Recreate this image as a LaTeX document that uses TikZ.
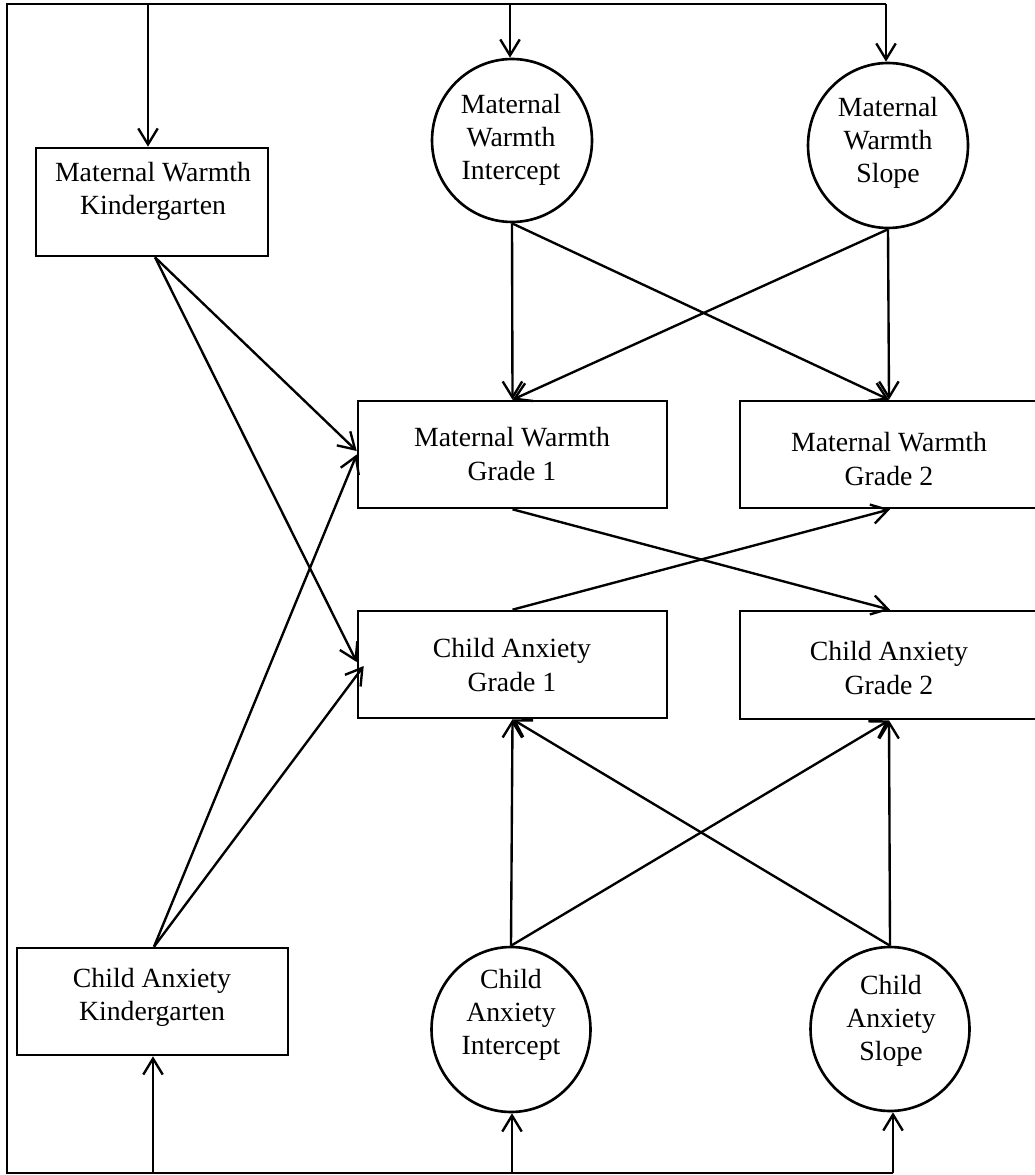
\documentclass[tikz,border=0pt]{standalone}
\usepackage{fontspec}
\setmainfont{Liberation Serif}
\usetikzlibrary{arrows.meta,shapes.geometric}
\begin{document}
\begin{tikzpicture}[x=0.02cm,y=-0.02cm,
  line width=1.35pt,
  box/.style={draw,rectangle,inner sep=0pt,line width=1.5pt},
  lat/.style={draw,ellipse,inner sep=0pt,line width=1.5pt},
  txt/.style={align=center,inner sep=0pt,font=\fontsize{15.8}{18.8}\selectfont},
  arr/.style={-{Straight Barb[length=3.2mm,width=3.9mm]},line width=1.35pt}]
\useasboundingbox (0,0) rectangle (1034,1175);

% observed variables
\node[box,minimum width=4.64cm,minimum height=2.16cm] (mwk) at (152,202) {};
\node[box,minimum width=5.42cm,minimum height=2.14cm] (cak) at (152.5,1001.5) {};
\node[box,minimum width=6.18cm,minimum height=2.14cm] (mwg1) at (512.5,454.5) {};
\node[box,minimum width=5.96cm,minimum height=2.14cm] (mwg2) at (889,454.5) {};
\node[box,minimum width=6.18cm,minimum height=2.14cm] (cag1) at (512.5,664.5) {};
\node[box,minimum width=5.96cm,minimum height=2.16cm] (cag2) at (889,665) {};

% latent variables
\node[lat,minimum width=3.2cm,minimum height=3.26cm] (mwi) at (512,140.5) {};
\node[lat,minimum width=3.2cm,minimum height=3.3cm] (mws) at (888,145.5) {};
\node[lat,minimum width=3.18cm,minimum height=3.3cm] (cai) at (511,1029.5) {};
\node[lat,minimum width=3.18cm,minimum height=3.28cm] (cas) at (890,1029) {};

% texts
\node[txt] (mwkt) at (153,191) {Maternal Warmth\\Kindergarten};
\node[txt] (cakt) at (152,997) {Child Anxiety\\Kindergarten};
\node[txt] (mwg1t) at (512,454) {Maternal Warmth\\Grade 1};
\node[txt] (mwg2t) at (889,459) {Maternal Warmth\\Grade 2};
\node[txt] (cag1t) at (512,665) {Child Anxiety\\Grade 1};
\node[txt] (cag2t) at (889,668) {Child Anxiety\\Grade 2};
\node[txt] (mwit) at (511,140) {Maternal\\Warmth\\Intercept};
\node[txt] (mwst) at (888,143) {Maternal\\Warmth\\Slope};
\node[txt] (cait) at (511,1015) {Child\\Anxiety\\Intercept};
\node[txt] (cast) at (891,1021) {Child\\Anxiety\\Slope};

% frame lines
\coordinate (tl) at (7,4);
\coordinate (tr) at (886,4);
\coordinate (bl) at (7,1173);
\coordinate (br) at (893,1173);
\coordinate (t1) at (148,4);
\coordinate (t2) at (510,4);
\coordinate (b1) at (153,1173);
\coordinate (b2) at (512,1173);
\draw (br) -- (bl) -- (tl) -- (tr);

% arrows from the top line
\draw[arr] (t1) -- (t1 |- mwk.north);
\draw[arr] (t2) -- (t2 |- mwi.north);
\draw[arr] (tr) -- (tr |- mws.north);

% arrows from the bottom line
\draw[arr] (b1) -- (b1 |- cak.south);
\draw[arr] (b2) -- (b2 |- cai.south);
\draw[arr] (br) -- (br |- cas.south);

% kindergarten paths
\draw[arr] ([xshift=0.06cm]mwk.south) -- ([yshift=0.07cm]mwg1.west);
\draw[arr] ([xshift=0.06cm]mwk.south) -- ([yshift=0.05cm]cag1.west);
\draw[arr] ([xshift=0.03cm]cak.north) -- (mwg1.west);
\draw[arr] ([xshift=0.03cm]cak.north) -- ([xshift=0.14cm,yshift=-0.03cm]cag1.west);

% maternal warmth growth factors
\draw[arr] (mwi.south) -- (mwg1.north);
\draw[arr] (mwi.south) -- (mwg2.north);
\draw[arr] (mws.south) -- (mwg1.north);
\draw[arr] (mws.south) -- (mwg2.north);

% cross-lagged paths
\draw[arr] (mwg1.south) -- ([xshift=0.02cm]cag2.north);
\draw[arr] (cag1.north) -- ([xshift=0.02cm]mwg2.south);

% child anxiety growth factors
\draw[arr] (cai.north) -- (cag1.south);
\draw[arr] (cai.north) -- (cag2.south);
\draw[arr] (cas.north) -- (cag2.south);
\draw[arr] (cas.north) -- (cag1.south);
\end{tikzpicture}
\end{document}
